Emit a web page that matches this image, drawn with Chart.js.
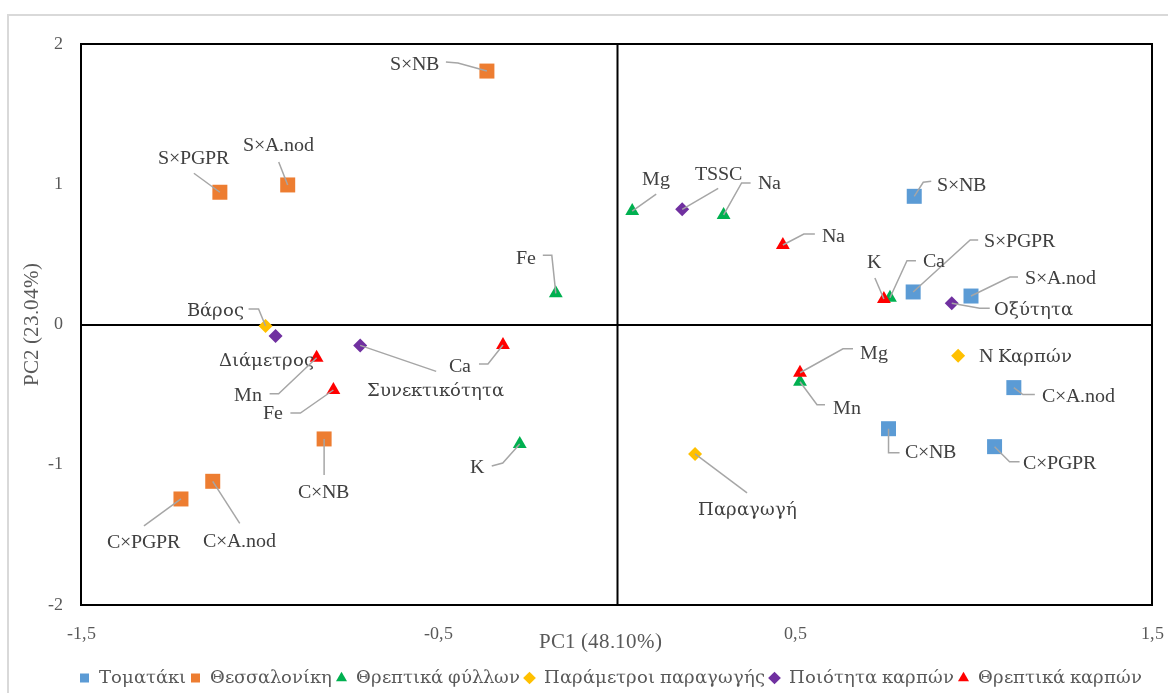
<!DOCTYPE html>
<html>
<head>
<meta charset="utf-8">
<script src="https://cdn.jsdelivr.net/npm/chart.js@4/dist/chart.umd.min.js"></script>
<style>
  /* Latin glyphs from Liberation Serif, Greek glyphs from DejaVu Serif */
  @font-face { font-family: 'ChartSerif'; src: local('Liberation Serif'), local('LiberationSerif');
               unicode-range: U+0000-02FF, U+2000-206F; }
  @font-face { font-family: 'ChartSerif'; src: local('DejaVu Serif'), local('DejaVuSerif');
               unicode-range: U+0370-03FF, U+1F00-1FFF; size-adjust: 92%; }
  html, body { margin: 0; padding: 0; background: #fff; overflow: hidden; }
  #wrap { position: relative; width: 1168px; height: 693px; }
  #frame { position: absolute; left: 7px; top: 14px; width: 1220px; height: 740px;
           border: 2px solid #d9d9d9; box-sizing: border-box; }
  #c { position: absolute; left: 0; top: 0; }
</style>
</head>
<body>
<div id="wrap">
  <div id="frame"></div>
  <canvas id="c" width="1168" height="693"></canvas>
</div>
<script>
// Axis ticks
const xTicks = [-1.5, -0.5, 0.5, 1.5];
const yTicks = [-2, -1, 0, 1, 2];

// Series: Τοματάκι
const tomatakiNames = ['S×NB', 'S×PGPR', 'S×A.nod', 'C×A.nod', 'C×NB', 'C×PGPR'];
const tomatakiPC1 = [0.834, 0.831, 0.993, 1.113, 0.762, 1.059];
const tomatakiPC2 = [0.914, 0.232, 0.203, -0.450, -0.743, -0.871];

// Series: Θεσσαλονίκη
const thessNames = ['S×NB', 'S×PGPR', 'S×A.nod', 'C×NB', 'C×PGPR', 'C×A.nod'];
const thessPC1 = [-0.363, -1.111, -0.921, -0.819, -1.220, -1.131];
const thessPC2 = [1.807, 0.943, 0.995, -0.816, -1.244, -1.118];

// Series: Θρεπτικά φύλλων
const leafNames = ['Mg', 'Na', 'Fe', 'K', 'Ca', 'Mn'];
const leafPC1 = [0.044, 0.300, -0.170, -0.271, 0.766, 0.514];
const leafPC2 = [0.809, 0.781, 0.222, -0.852, 0.191, -0.408];

// Series: Παράμετροι παραγωγής
const prodNames = ['Βάρος', 'N Καρπών', 'Παραγωγή'];
const prodPC1 = [-0.983, 0.957, 0.220];
const prodPC2 = [-0.011, -0.222, -0.923];

// Series: Ποιότητα καρπών
const qualNames = ['TSSC', 'Οξύτητα', 'Διάμετρος', 'Συνεκτικότητα'];
const qualPC1 = [0.184, 0.939, -0.955, -0.718];
const qualPC2 = [0.821, 0.151, -0.082, -0.149];

// Series: Θρεπτικά καρπών
const fruitNames = ['Na', 'K', 'Mg', 'Ca', 'Mn', 'Fe'];
const fruitPC1 = [0.466, 0.749, 0.514, -0.318, -0.840, -0.793];
const fruitPC2 = [0.567, 0.182, -0.344, -0.146, -0.237, -0.467];

// Label placement in pixels relative to each marker:
// [textDx, textDy, leaderStartDx, leaderStartDy, elbowDx, elbowDy]
const tomatakiLabelPos = [[47,-11, 17,-15, 9,-14], [106,-50, 65,-52, 57,-52], [89,-17, 47,-19, 39,-19],
                          [65,9, 21,7, 9,7], [42,24, 11,24, 0,24], [65,17, 25,15, 15,15]];
const thessLabelPos = [[-72,-6, -41,-9, -29,-8], [-26,-33, -26,-19], [-9,-39, -9,-23],
                       [-1,54, 0,36], [-37,44, -37,27], [27,60, 27,42]];
const leafLabelPos = [[24,-31, 24,-17], [46,-31, 27,-32, 18,-32], [-30,-35, -13,-38, -4,-38],
                      [-43,24, -28,22, -17,19], [44,-36, 26,-37, 17,-37], [47,27, 25,23, 17,23]];
const prodLabelPos = [[-50,-15, -17,-17, -7,-17], [67,1], [52,56, 52,39]];
const qualLabelPos = [[36,-35, 36,-21], [82,6, 38,5, 28,5], [-9,25], [75,45, 76,26]];
const fruitLabelPos = [[51,-8, 32,-11, 21,-11], [-10,-36, -9,-21], [74,-19, 53,-24, 43,-24],
                       [-43,22, -24,19, -15,19], [-69,38, -47,36, -38,36], [-60,24, -43,23, -33,23]];

const FONT = "'ChartSerif', 'Liberation Serif', serif";
const toPoints = (xs, ys) => xs.map((x, i) => ({ x, y: ys[i] }));

const seriesNames = [tomatakiNames, thessNames, leafNames, prodNames, qualNames, fruitNames];
const seriesLabelPos = [tomatakiLabelPos, thessLabelPos, leafLabelPos, prodLabelPos, qualLabelPos, fruitLabelPos];

function dataset(label, xs, ys, color, style, radius, order) {
  return {
    label, data: toPoints(xs, ys), order,
    pointStyle: style, pointRadius: radius, pointHoverRadius: radius,
    backgroundColor: color, borderColor: color, borderWidth: 0,
    showLine: false
  };
}

// Frame round the plot and the two zero axes through the origin
const quadrantFrame = {
  id: 'quadrantFrame',
  beforeDatasetsDraw(chart) {
    const { ctx, chartArea: a, scales } = chart;
    const x0 = Math.round(scales.x.getPixelForValue(0)) + 0.5;
    const y0 = Math.round(scales.y.getPixelForValue(0));
    ctx.save();
    ctx.strokeStyle = '#000';
    ctx.lineWidth = 2;
    ctx.strokeRect(a.left, a.top, a.right - a.left, a.bottom - a.top);
    ctx.beginPath();
    ctx.moveTo(x0, a.top); ctx.lineTo(x0, a.bottom);
    ctx.moveTo(a.left, y0); ctx.lineTo(a.right, y0);
    ctx.stroke();
    ctx.restore();
  }
};

// Point names with grey leader lines
const pointLabels = {
  id: 'pointLabels',
  afterDatasetsDraw(chart) {
    const ctx = chart.ctx;
    ctx.save();
    ctx.font = '20px ' + FONT;
    ctx.textAlign = 'center';
    ctx.textBaseline = 'middle';
    chart.data.datasets.forEach((ds, di) => {
      const meta = chart.getDatasetMeta(di);
      const names = seriesNames[di];
      const pos = seriesLabelPos[di];
      meta.data.forEach((el, i) => {
        const L = pos[i];
        const px = el.x, py = el.y;
        if (L.length > 2) {
          ctx.strokeStyle = '#a6a6a6';
          ctx.lineWidth = 1.5;
          ctx.beginPath();
          ctx.moveTo(px + L[2], py + L[3]);
          if (L.length > 4) ctx.lineTo(px + L[4], py + L[5]);
          ctx.lineTo(px, py);
          ctx.stroke();
        }
        ctx.fillStyle = '#404040';
        ctx.fillText(names[i], px + L[0], py + L[1]);
      });
    });
    ctx.restore();
  }
};

// Horizontal axis title, set just under the plot
const xTitle = {
  id: 'xTitle',
  afterDraw(chart) {
    const { ctx, chartArea: a } = chart;
    ctx.save();
    ctx.font = '21px ' + FONT;
    ctx.fillStyle = '#595959';
    ctx.textAlign = 'center';
    ctx.textBaseline = 'middle';
    ctx.fillText('PC1 (48.10%)', (a.left + a.right) / 2 - 16, a.bottom + 37);
    ctx.restore();
  }
};

// Shift the legend row to the right of the plot centre
const legendShift = {
  id: 'legendShift',
  afterLayout(chart) {
    if (chart.legend) chart.legend.left += 70;
  }
};

const fmt = v => String(v).replace('.', ',');

function draw() {
  new Chart(document.getElementById('c'), {
    type: 'scatter',
    data: {
      datasets: [
        dataset('Τοματάκι', tomatakiPC1, tomatakiPC2, '#5b9bd5', 'rect', 10.6, 6),
        dataset('Θεσσαλονίκη', thessPC1, thessPC2, '#ed7d31', 'rect', 10.6, 5),
        dataset('Θρεπτικά φύλλων', leafPC1, leafPC2, '#00b050', 'triangle', 8, 4),
        dataset('Παράμετροι παραγωγής', prodPC1, prodPC2, '#ffc000', 'rectRot', 7, 3),
        dataset('Ποιότητα καρπών', qualPC1, qualPC2, '#7030a0', 'rectRot', 7, 2),
        dataset('Θρεπτικά καρπών', fruitPC1, fruitPC2, '#ff0000', 'triangle', 8, 1)
      ]
    },
    options: {
      responsive: false,
      animation: false,
      devicePixelRatio: 1,
      events: [],
      layout: { padding: { left: 0, top: 44, right: 16, bottom: -5 } },
      plugins: {
        tooltip: { enabled: false },
        legend: {
          position: 'bottom',
          align: 'center',
          labels: {
            usePointStyle: true,
            boxHeight: 9,
            boxWidth: 9,
            padding: 5,
            color: '#595959',
            font: { family: FONT, size: 20 },
            sort: (a, b) => a.datasetIndex - b.datasetIndex
          }
        }
      },
      scales: {
        x: {
          type: 'linear',
          min: -1.5, max: 1.5,
          afterBuildTicks: axis => { axis.ticks = xTicks.map(v => ({ value: v })); },
          afterFit: s => { s.height = 58; s.paddingLeft = 0; s.paddingRight = 0; },
          grid: { display: false, drawTicks: false },
          border: { display: false },
          ticks: { padding: 18, color: '#595959', font: { family: FONT, size: 18 },
                   autoSkip: false, maxRotation: 0, callback: v => fmt(v) }
        },
        y: {
          type: 'linear',
          min: -2, max: 2,
          afterBuildTicks: axis => { axis.ticks = yTicks.map(v => ({ value: v })); },
          afterFit: s => { s.width = 81; },
          grid: { display: false, drawTicks: false },
          border: { display: false },
          ticks: { padding: 18, color: '#595959', font: { family: FONT, size: 18 },
                   callback: v => fmt(v) },
          title: { display: true, text: 'PC2 (23.04%)', color: '#595959',
                   font: { family: FONT, size: 21 }, padding: { top: 20, bottom: 0 } }
        }
      }
    },
    plugins: [quadrantFrame, pointLabels, xTitle, legendShift]
  });
}

Promise.all([
  document.fonts.load('20px ChartSerif', 'SNB×'),
  document.fonts.load('20px ChartSerif', 'Παραγωγή')
]).then(draw, draw);
</script>
</body>
</html>
